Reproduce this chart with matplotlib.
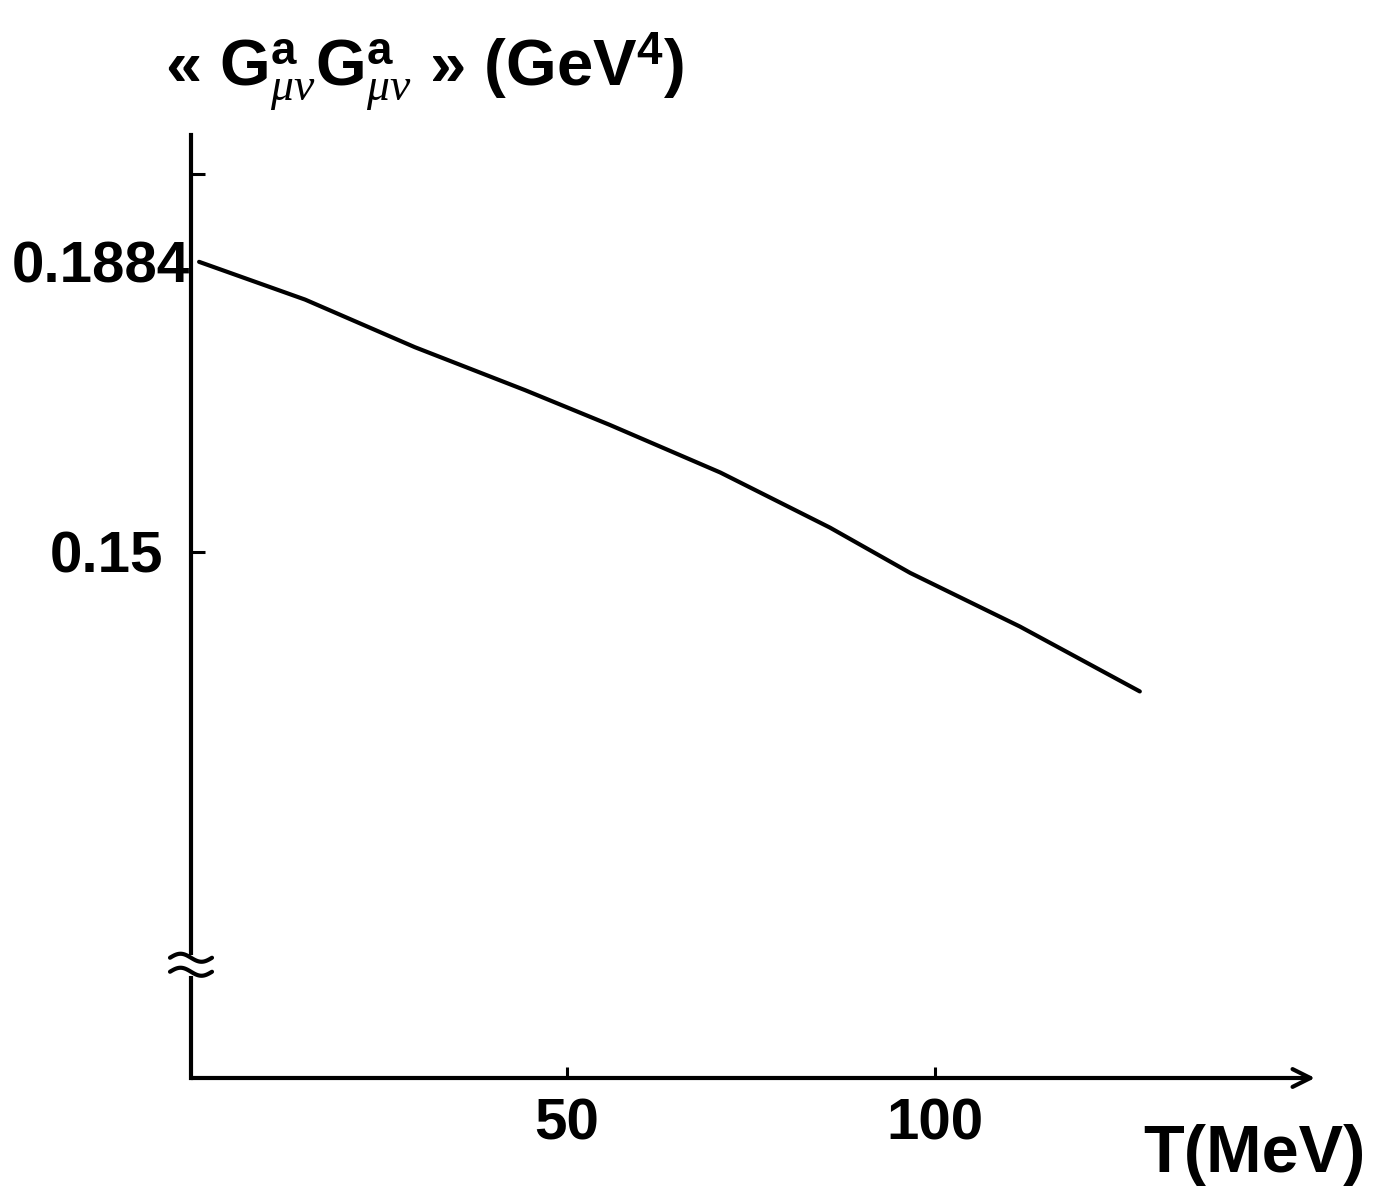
import numpy as np
import matplotlib
matplotlib.use("Agg")
import matplotlib.pyplot as plt

# gluon condensate vs temperature
T_mev = [0, 14.4, 29.3, 44.3, 55.8, 70.8, 85.7, 96.6, 111.5, 127.8]
g2 = [0.1884, 0.1834, 0.1771, 0.1714, 0.1668, 0.1605, 0.1532, 0.1472, 0.1401, 0.1315]

y_ticks = [0.15, 0.1884, 0.2]
y_labels = ["0.15", "0.1884", ""]
x_ticks = [50, 100]
x_labels = ["50", "100"]

plt.rcParams["font.family"] = ["Liberation Sans", "DejaVu Sans"]
plt.rcParams["mathtext.fontset"] = "custom"
plt.rcParams["mathtext.rm"] = "Liberation Sans"
plt.rcParams["mathtext.bf"] = "Liberation Sans:bold"
plt.rcParams["mathtext.it"] = "Liberation Serif:italic"

W, H = 1374, 1186
fig = plt.figure(figsize=(W / 100, H / 100), dpi=100)
ax = fig.add_axes([191 / W, (H - 1078) / H, (1315 - 191) / W, (1078 - 135) / H])

ax.plot(T_mev, g2, color="black", lw=3.0, solid_capstyle="round")

x0, x1 = -1.1, 151.6
y0, y1 = 0.0803, 0.2052
ax.set_xlim(x0, x1)
ax.set_ylim(y0, y1)

for s in ["top", "right", "bottom"]:
    ax.spines[s].set_visible(False)
ax.spines["left"].set_linewidth(3.0)

# x axis with arrow head
ax.annotate("", xy=(1, 0), xytext=(0, 0), xycoords="axes fraction",
            arrowprops=dict(arrowstyle="->", lw=3.0, color="black",
                            mutation_scale=32, shrinkA=0, shrinkB=0))

ax.set_yticks(y_ticks)
ax.set_yticklabels(y_labels, fontsize=42, fontweight="bold")
ax.set_xticks(x_ticks)
ax.set_xticklabels(x_labels, fontsize=42, fontweight="bold")
ax.tick_params(axis="y", direction="in", length=10, width=2.2)
ax.tick_params(axis="x", direction="in", length=8, width=2.2, pad=14)
for t, p in zip(ax.yaxis.get_major_ticks(), [20, 1, 4]):
    t.set_pad(p)
ax.yaxis.get_major_ticks()[1].tick1line.set_visible(False)

# axis break mark (sizes in pixels, converted to data units)
px_x = (x1 - x0) / (1315 - 191)
px_y = (y1 - y0) / (1078 - 135)
yb = 0.0953
u = np.linspace(-1, 1, 60)
ax.plot([x0, x0], [yb - 7 * px_y, yb + 7 * px_y], color="white", lw=5,
        clip_on=False, zorder=3)
for off in (7, -7):
    ax.plot(x0 + u * 21 * px_x, yb + (off - 4 * np.sin(np.pi * u)) * px_y,
            color="black", lw=3.0, clip_on=False, zorder=4,
            solid_capstyle="round")

fig.text(165 / W, 1 - 72 / H,
         r"« $\mathbf{G}^{\mathbf{a}}_{\mu\nu}\mathbf{G}^{\mathbf{a}}_{\mu\nu}$ » (GeV$^{\mathbf{4}}$)",
         fontsize=47, fontweight="bold", va="center", ha="left")
fig.text(1366 / W, 1 - 1155 / H, "T(MeV)", fontsize=48, fontweight="bold",
         va="center", ha="right")

fig.savefig("out.png", dpi=100, facecolor="white")
